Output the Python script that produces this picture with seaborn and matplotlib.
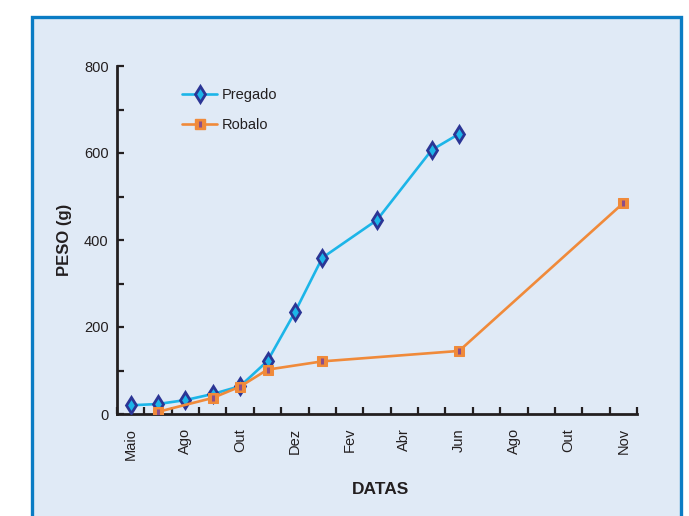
import matplotlib
matplotlib.use("Agg")
import matplotlib.pyplot as plt
from matplotlib.patches import Rectangle
from matplotlib.lines import Line2D
import seaborn as sns
import pandas as pd

# month slots along the x axis (one category per slot, labels every other slot)
tick_labels = ['Maio', 'Ago', 'Out', 'Dez', 'Fev', 'Abr', 'Jun', 'Ago', 'Out', 'Nov']
tick_slots = [0, 2, 4, 6, 8, 10, 12, 14, 16, 18]
n_slots = 19

pregado_x = [0, 1, 2, 3, 4, 5, 6, 7, 9, 11, 12]
pregado_y = [20, 23, 32, 46, 64, 122, 234, 359, 446, 607, 644]

robalo_x = [1, 3, 4, 5, 7, 12, 18]
robalo_y = [5, 37, 63, 102, 121, 145, 485]

df_p = pd.DataFrame({'slot': pregado_x, 'peso': pregado_y})
df_r = pd.DataFrame({'slot': robalo_x, 'peso': robalo_y})

sns.set_style("white")
plt.rcParams['font.family'] = ['Liberation Sans', 'DejaVu Sans']

ink = '#231F20'
cyan = '#1CB5E8'
navy = '#2B3595'
orange = '#F08A3A'
purple = '#8B4E8A'

fig = plt.figure(figsize=(6.89, 5.16), dpi=100)
fig.patch.set_facecolor('white')
frame = Rectangle((32 / 689, -0.05), (681 - 32) / 689, 1.05 - 17 / 516,
                  transform=fig.transFigure, facecolor='#E0EAF6',
                  edgecolor='#0A7CC4', linewidth=2.4, zorder=-5)
fig.add_artist(frame)

ax = fig.add_axes([117 / 689, 1 - 414 / 516, 520 / 689, 348 / 516])
ax.set_facecolor('none')

diamond = dict(marker='d', markersize=8.5, markerfacecolor=cyan,
               markeredgecolor=navy, markeredgewidth=2)
square = dict(marker='s', markersize=7, markerfacecolor=orange,
              markeredgecolor=orange)
bar = dict(linestyle='none', marker='|', markersize=5, markeredgewidth=2.2,
           color=purple)

sns.lineplot(data=df_p, x='slot', y='peso', ax=ax, color=cyan, linewidth=1.9,
             zorder=3, **diamond)
sns.lineplot(data=df_r, x='slot', y='peso', ax=ax, color=orange, linewidth=1.9,
             zorder=3, **square)
ax.plot(robalo_x, robalo_y, zorder=4, **bar)

ax.set_xlim(-0.5, n_slots - 0.5)
ax.set_ylim(0, 800)

ax.set_xticks(tick_slots)
ax.set_xticklabels(tick_labels, rotation=90, fontsize=10.5, color=ink)
ax.set_xticks([i - 0.5 for i in range(n_slots + 1)], minor=True)
ax.tick_params(axis='x', which='major', bottom=True, length=0, pad=10)
ax.tick_params(axis='x', which='minor', bottom=True, direction='in', length=5,
               width=1.6, color=ink)

ax.set_yticks([0, 200, 400, 600, 800])
ax.set_yticks([100, 300, 500, 700], minor=True)
ax.tick_params(axis='y', which='both', left=True, direction='in', length=5,
               width=1.6, color=ink, labelsize=10.5, labelcolor=ink, pad=6)

for side in ['top', 'right']:
    ax.spines[side].set_visible(False)
for side in ['left', 'bottom']:
    ax.spines[side].set_color(ink)
    ax.spines[side].set_linewidth(2)

ax.set_xlabel('DATAS', fontsize=12.5, fontweight='bold', color=ink)
ax.set_ylabel('PESO (g)', fontsize=12, fontweight='bold', color=ink)
ax.xaxis.set_label_coords(0.506, -0.195)
ax.yaxis.set_label_coords(-0.087, 0.5)

h_p = Line2D([], [], color=cyan, linewidth=1.9, **diamond)
h_r = Line2D([], [], color=orange, linewidth=1.9, **square)
h_r2 = Line2D([], [], **bar)
ax.legend([h_p, (h_r, h_r2)], ['Pregado', 'Robalo'], frameon=False, fontsize=10.5,
          loc='upper left', bbox_to_anchor=(0.1, 0.975), labelspacing=1.1,
          handlelength=2.4, handletextpad=0.3, labelcolor=ink)

fig.savefig('out.png', dpi=100)
